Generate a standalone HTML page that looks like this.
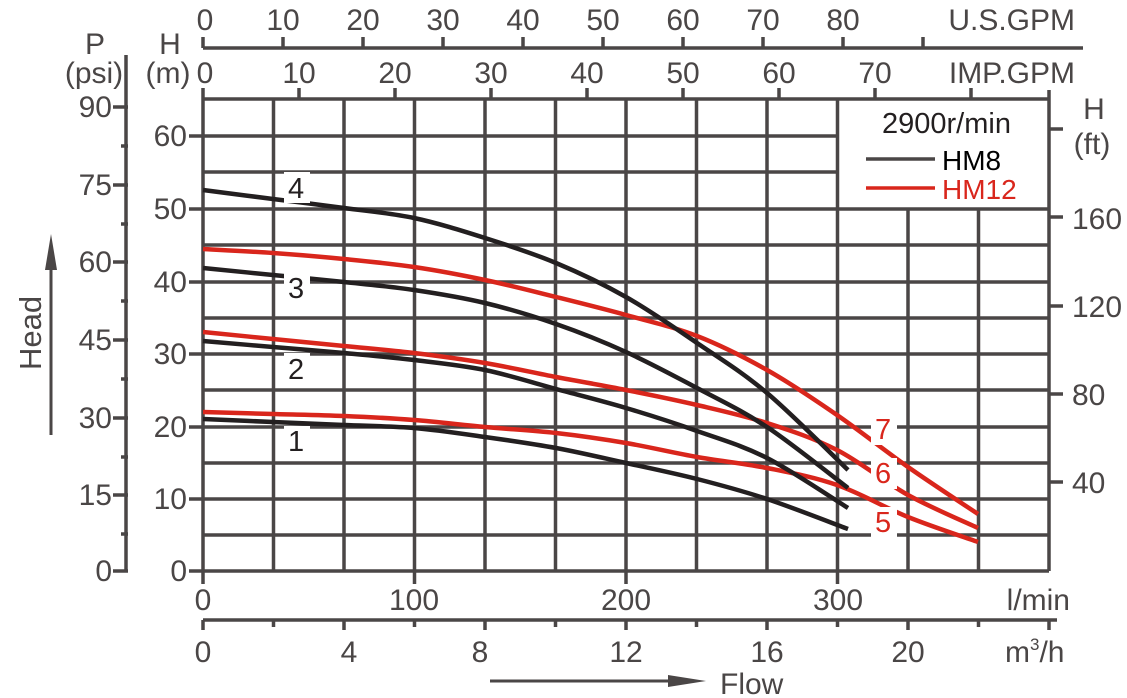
<!DOCTYPE html>
<html><head><meta charset="utf-8"><style>
html,body{margin:0;padding:0;background:#fff}
svg{display:block}
text{font-family:"Liberation Sans",sans-serif;fill:#4a4646}
</style></head><body>
<svg id="s" width="1127" height="698" viewBox="0 0 1127 698" xmlns="http://www.w3.org/2000/svg">
<g stroke="#4a4646" stroke-width="3.5" fill="none">
<path d="M203 99V571 M273.5 99V571 M344 99V571 M414.5 99V571 M485 99V571 M555.5 99V571 M626 99V571 M696.5 99V571 M767 99V571 M837.5 99V571 M908 209V571 M978.5 209V571 M1049 90V571"/>
<path d="M203 99H1049 M189 136H837 M203 172H837 M189 209H1049 M203 245H1049 M189 282H1049 M203 318H1049 M189 354H1049 M203 390H1049 M189 427H1049 M203 463H1049 M189 499H1049 M203 535H1049 M189 571H1049"/>
<path d="M203 48H1083 M203 37V48 M283 37V48 M363 37V48 M443 37V48 M523 37V48 M603 37V48 M683 37V48 M763 37V48 M843 37V48 M923 37V48"/>
<path d="M203 88V99 M299 88V99 M395 88V99 M491 88V99 M587 88V99 M683 88V99 M779 88V99 M875 88V99 M971 88V99"/>
<path d="M203 571V584 M414.5 571V584 M626 571V584 M837.5 571V584"/>
<path d="M203 620H1057 M203 620V630 M273.5 620V627 M344 620V630 M414.5 620V627 M485 620V630 M555.5 620V627 M626 620V630 M696.5 620V627 M767 620V630 M837.5 620V627 M908 620V630 M978.5 620V627 M1049 620V630"/>
<path d="M126 55V571 M113 571H128 M113 107H128 M121 146H128 M113 185H128 M121 224H128 M113 262H128 M121 301H128 M113 340H128 M121 379H128 M113 418H128 M121 457H128 M113 495H128 M121 534H128"/>
<path d="M1049 482H1063 M1049 394H1063 M1049 306H1063 M1049 217H1063 M1049 129H1063"/>
</g>
<rect x="839.5" y="101" width="207.5" height="106" fill="#fff"/>
<line x1="866" y1="159" x2="935" y2="159" stroke="#4a4646" stroke-width="3.5"/>
<line x1="866" y1="188" x2="935" y2="188" stroke="#d9261c" stroke-width="3.5"/>
<text x="882" y="133" font-size="29" style="fill:#231f20">2900r/min</text>
<text x="942" y="170" font-size="28" style="fill:#000">HM8</text>
<text x="942" y="199" font-size="28" style="fill:#d9261c">HM12</text>
<g id="curves" fill="none" stroke-width="4.5" stroke-linejoin="round"></g>
<g font-size="29">
<rect x="284" y="172" width="26" height="31" fill="#fff"/><text x="288" y="198" style="fill:#231f20">4</text>
<rect x="284" y="272" width="26" height="31" fill="#fff"/><text x="288" y="298" style="fill:#231f20">3</text>
<rect x="284" y="353" width="26" height="31" fill="#fff"/><text x="288" y="379" style="fill:#231f20">2</text>
<rect x="284" y="426" width="26" height="31" fill="#fff"/><text x="288" y="451" style="fill:#231f20">1</text>
<rect x="871" y="414" width="26" height="31" fill="#fff"/><text x="875" y="439" style="fill:#d9261c">7</text>
<rect x="871" y="458" width="26" height="31" fill="#fff"/><text x="875" y="483" style="fill:#d9261c">6</text>
<rect x="871" y="507" width="26" height="31" fill="#fff"/><text x="875" y="532" style="fill:#d9261c">5</text>
</g>
<g font-size="30">
<g text-anchor="middle">
<text x="205" y="30">0</text><text x="283" y="30">10</text><text x="363" y="30">20</text><text x="443" y="30">30</text><text x="523" y="30">40</text><text x="603" y="30">50</text><text x="683" y="30">60</text><text x="763" y="30">70</text><text x="843" y="30">80</text>
<text x="205" y="83">0</text><text x="299" y="83">10</text><text x="395" y="83">20</text><text x="491" y="83">30</text><text x="587" y="83">40</text><text x="683" y="83">50</text><text x="779" y="83">60</text><text x="875" y="83">70</text>
<text x="203" y="610">0</text><text x="414" y="610">100</text><text x="626" y="610">200</text><text x="838" y="610">300</text>
<text x="203" y="662">0</text><text x="349" y="662">4</text><text x="480" y="662">8</text><text x="626" y="662">12</text><text x="767" y="662">16</text><text x="908" y="662">20</text>
<text x="95" y="54">P</text><text x="94" y="83">(psi)</text>
<text x="170" y="54">H</text><text x="168" y="83">(m)</text>
<text x="1094" y="119">H</text><text x="1092" y="154">(ft)</text>
</g>
<text x="1075" y="30" text-anchor="end">U.S.GPM</text>
<text x="1075" y="83" text-anchor="end">IMP.GPM</text>
<text x="1070" y="610" text-anchor="end">l/min</text>
<text x="1005" y="662">m<tspan font-size="17" dy="-12">3</tspan><tspan dy="12">/h</tspan></text>
<g text-anchor="end">
<text x="112" y="117">90</text><text x="112" y="195">75</text><text x="112" y="272">60</text><text x="112" y="350">45</text><text x="112" y="428">30</text><text x="112" y="505">15</text><text x="112" y="581">0</text>
<text x="187" y="146">60</text><text x="187" y="219">50</text><text x="187" y="292">40</text><text x="187" y="364">30</text><text x="187" y="437">20</text><text x="187" y="509">10</text><text x="187" y="581">0</text>
</g>
<text x="1072" y="229">160</text><text x="1072" y="317">120</text><text x="1072" y="405">80</text><text x="1072" y="493">40</text>
<text x="720" y="694">Flow</text>
<text transform="translate(41,333) rotate(-90)" text-anchor="middle" font-size="31">Head</text>
</g>
<line x1="490" y1="681" x2="685" y2="681" stroke="#4a4646" stroke-width="3"/>
<polygon points="706,681 668,675 668,687" fill="#4a4646"/>
<line x1="51" y1="435" x2="51" y2="255" stroke="#4a4646" stroke-width="3"/>
<polygon points="51,234 45,270 57,270" fill="#4a4646"/>
</svg>
<script>
var C=[
["#d9261c",[[203,412],[273,414],[344,416],[414,420],[485,427],[556,433],[626,443],[697,457],[767,468],[837,485],[908,517],[978,542]]],
["#d9261c",[[203,332],[273,339],[344,346],[414,353],[485,363],[556,377],[626,390],[697,405],[767,423],[837,450],[908,495],[978,528]]],
["#d9261c",[[203,249],[273,253],[344,259],[414,267],[485,280],[556,297],[626,315],[697,336],[767,370],[837,415],[908,467],[978,514]]],
["#231f20",[[203,419],[273,422],[344,425],[414,428],[485,437],[556,448],[626,463],[697,479],[767,499],[848,529]]],
["#231f20",[[203,341],[273,347],[344,353],[414,360],[485,370],[556,389],[626,408],[697,431],[767,458],[848,508]]],
["#231f20",[[203,268],[273,275],[344,282],[414,290],[485,303],[556,324],[626,352],[697,388],[767,427],[848,488]]],
["#231f20",[[203,190],[273,199],[344,208],[414,218],[485,238],[556,263],[626,297],[697,343],[767,393],[848,470]]]
];
var g=document.getElementById("curves"),ns="http://www.w3.org/2000/svg";
C.forEach(function(c){var p=c[1],d="M"+p[0][0]+" "+p[0][1];
for(var i=0;i<p.length-1;i++){var p0=p[Math.max(i-1,0)],p1=p[i],p2=p[i+1],p3=p[Math.min(i+2,p.length-1)];
d+=" C"+(p1[0]+(p2[0]-p0[0])/6)+" "+(p1[1]+(p2[1]-p0[1])/6)+" "+(p2[0]-(p3[0]-p1[0])/6)+" "+(p2[1]-(p3[1]-p1[1])/6)+" "+p2[0]+" "+p2[1];}
var e=document.createElementNS(ns,"path");e.setAttribute("d",d);e.setAttribute("stroke",c[0]);g.appendChild(e);});
</script>
</body></html>
